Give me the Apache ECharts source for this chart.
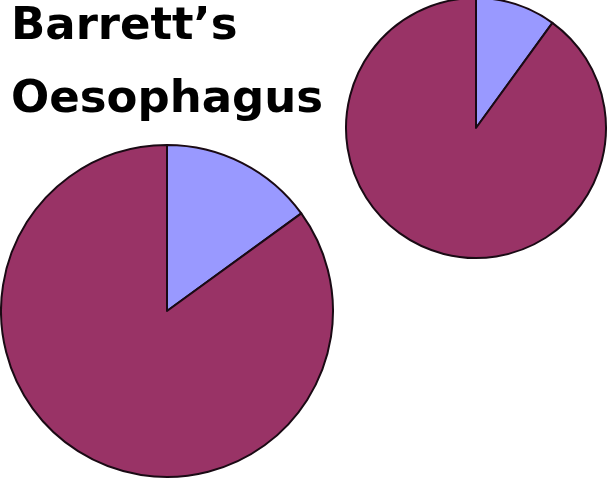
<!DOCTYPE html>
<html>
<head>
<meta charset="utf-8">
<script src="https://cdn.jsdelivr.net/npm/echarts@6/dist/echarts.min.js"></script>
<style>
  html, body { margin: 0; padding: 0; background: #fff; }
  #chart { width: 616px; height: 483px; }
</style>
</head>
<body>
<div id="chart"></div>
<script>
// slice names and shares
var sliceNames = ["Barrett's", "Other"];
var largeValues = [15, 85];
var smallValues = [10, 90];
var sliceColors = ["#9999ff", "#993366"];

var chart = echarts.init(document.getElementById("chart"));

function pieSeries(values, center, radius) {
  return {
    type: "pie",
    center: center,
    radius: radius,
    startAngle: 90,
    clockwise: true,
    label: { show: false },
    labelLine: { show: false },
    emphasis: { disabled: true },
    itemStyle: { borderColor: "#1a0a14", borderWidth: 2 },
    data: values.map(function (v, i) {
      return { name: sliceNames[i], value: v, itemStyle: { color: sliceColors[i] } };
    }),
  };
}

var option = {
  animation: false,
  title: {
    text: "Barrett\u2019s\nOesophagus",
    left: 6,
    top: -14,
    textStyle: {
      fontFamily: "DejaVu Sans",
      fontWeight: "bold",
      fontSize: 45,
      lineHeight: 73,
      color: "#000",
    },
  },
  series: [
    pieSeries(largeValues, [167, 311], 166),
    pieSeries(smallValues, [476, 128], 130),
  ],
};

chart.setOption(option);
</script>
</body>
</html>
